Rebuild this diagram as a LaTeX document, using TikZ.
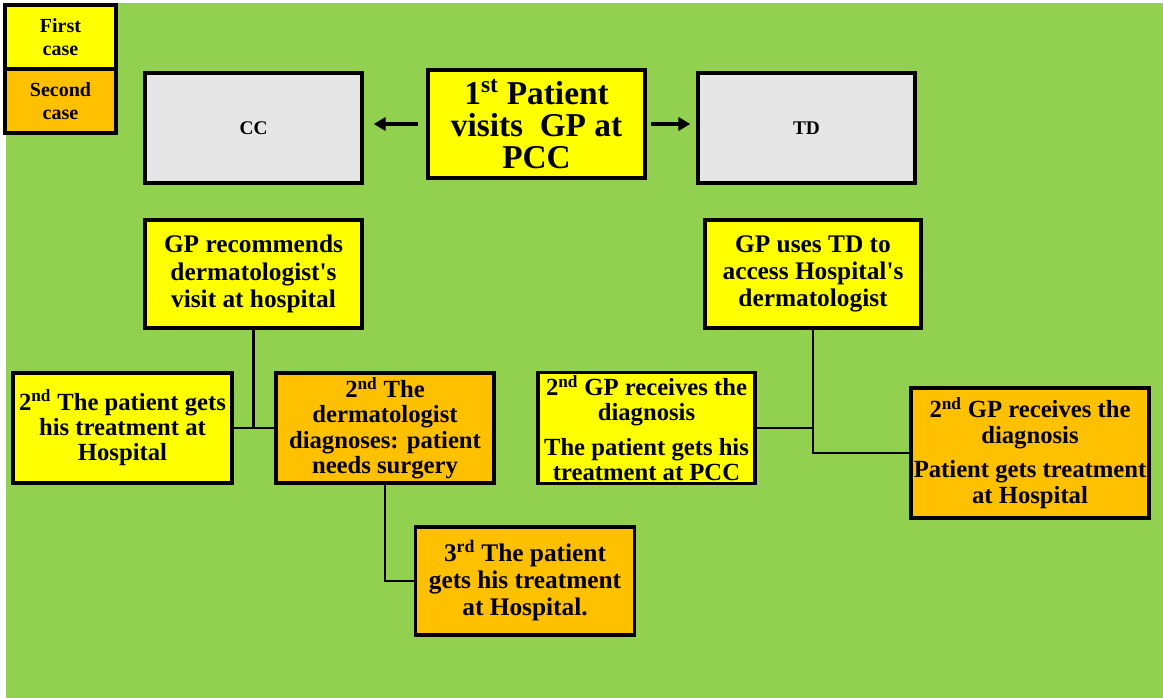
\documentclass[tikz,border=0pt]{standalone}
\usepackage{fontspec}
\setmainfont{Liberation Serif}[Ligatures=TeXOff]
\usetikzlibrary{arrows.meta}
\definecolor{bggreen}{HTML}{92D050}
\definecolor{caseyellow}{HTML}{FFFF00}
\definecolor{caseorange}{HTML}{FFC000}
\definecolor{boxgray}{HTML}{E6E6E6}

\begin{document}
\begin{tikzpicture}[x=0.75pt, y=-0.75pt,
    box/.style 2 args={draw, line width=2.6pt, align=center, inner sep=0pt,
      font=\bfseries\fontsize{18.5}{19}\selectfont,
      minimum width=#1*0.75pt, minimum height=#2*0.75pt},
    firstcase/.style={fill=caseyellow},
    secondcase/.style={fill=caseorange},
    link/.style={line width=2pt},
    arr/.style={line width=3pt, -{Triangle[length=9pt,width=10pt]}}]
    % Page size and green background
    \useasboundingbox (0,0) rectangle (1163,698);
    \fill[bggreen] (6,3) rectangle (1163,698);

    % Legend in the top left corner
    \node[box={111}{64}, firstcase, font=\bfseries\fontsize{15}{17}\selectfont] (legfirst) at (60.5,37) {First\\case};
    \node[box={111}{64}, secondcase, font=\bfseries\fontsize{15}{17}\selectfont] (legsecond) at (60.5,101) {Second\\case};

    % Top row: the first visit and the two ways
    \node[box={217}{110}, fill=boxgray, font=\bfseries\fontsize{14.5}{17}\selectfont] (cc) at (253.5,128) {CC};
    \node[box={217}{108}, firstcase, font=\bfseries\fontsize{25}{24}\selectfont] (visit) at (536.5,124)
      {1\textsuperscript{st} Patient\\visits~~GP at\\PCC};
    \node[box={217}{110}, fill=boxgray, font=\bfseries\fontsize{14.5}{17}\selectfont] (td) at (806.5,128) {TD};
    \draw[arr, shorten <=6pt, shorten >=7.5pt] (visit.west) -- (visit.west -| cc.east);
    \draw[arr, shorten <=3.5pt, shorten >=4.5pt] (visit.east) -- (visit.east -| td.west);

    % CC branch
    \node[box={217}{108}, firstcase, font=\bfseries\fontsize{19}{20.5}\selectfont] (recommend) at (253.5,274)
      {GP recommends\\dermatologist's\\visit at hospital};
    \node[box={219}{110}, firstcase] (hospfirst) at (122.5,428)
      {2\textsuperscript{nd} The patient gets\\his treatment at\\Hospital};
    \node[box={218}{110}, secondcase] (derm) at (385,428)
      {2\textsuperscript{nd} The\\dermatologist\\diagnoses: patient\\needs surgery};
    \node[box={219}{108}, secondcase, font=\bfseries\fontsize{19}{20.5}\selectfont] (surgery) at (525,581)
      {3\textsuperscript{rd} The patient\\gets his treatment\\at Hospital.};
    \draw[link] (recommend.south) -- (recommend.south |- hospfirst.east);
    \draw[link] (hospfirst.east) -- (derm.west);
    \draw[link] (derm.south) |- (surgery.west);

    % TD branch
    \node[box={216}{108}, firstcase, font=\bfseries\fontsize{19}{20.5}\selectfont] (usetd) at (813,274)
      {GP uses TD to\\access Hospital's\\dermatologist};
    \node[box={217}{111}, firstcase] (pccdiag) at (646.5,428)
      {2\textsuperscript{nd} GP receives the\\diagnosis\\[7pt]The patient gets his\\treatment at PCC};
    \node[box={238}{130}, secondcase] (hospdiag) at (1030,453)
      {2\textsuperscript{nd} GP receives the\\diagnosis\\[7pt]Patient gets treatment\\at Hospital};
    \draw[link] (usetd.south) |- (hospdiag.west);
    \draw[link] (pccdiag.east) -- (pccdiag.east -| usetd.south);
\end{tikzpicture}
\end{document}
